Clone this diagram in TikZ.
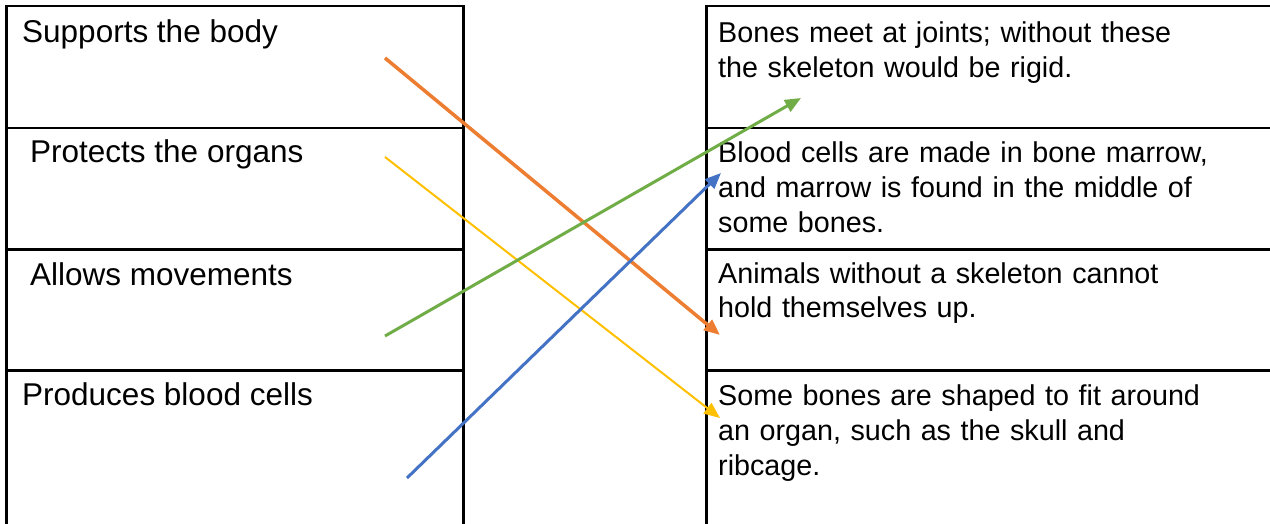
\documentclass[tikz,border=0pt]{standalone}
\usepackage{fontspec}
\setmainfont{Liberation Sans}
\usepackage{tikz}
\usetikzlibrary{arrows.meta}

\definecolor{linkorange}{HTML}{ED7D31}
\definecolor{linkyellow}{HTML}{FFC000}
\definecolor{linkgreen}{HTML}{70AD47}
\definecolor{linkblue}{HTML}{4472C4}

\begin{document}
\begin{tikzpicture}[x=1pt, y=-1pt,
  cell/.style={draw=black, line width=2.5pt, anchor=north west, inner sep=0pt},
  leftcell/.style={cell, minimum width=457pt},
  rightcell/.style={cell, minimum width=585pt},
  lefttext/.style={anchor=base west, inner sep=0pt, font=\fontsize{31.5}{35}\selectfont},
  righttext/.style={anchor=base west, inner sep=0pt, text width=548pt, align=left, font=\fontsize{28.7}{35}\selectfont},
  link/.style={-{Triangle[length=16pt, width=13pt]}}]

  \clip (0,0) rectangle (1270,524);
  \fill[white] (0,0) rectangle (1270,524);

  \node[leftcell, minimum height=122pt] (supports) at (5,5) {};
  \node[leftcell, minimum height=121pt] (protects) at (5,127) {};
  \node[leftcell, minimum height=121pt] (allows) at (5,248) {};
  \node[leftcell, minimum height=200pt] (produces) at (5,369) {};

  \node[rightcell, minimum height=122pt] (joints) at (705,5) {};
  \node[rightcell, minimum height=121pt] (marrow) at (705,127) {};
  \node[rightcell, minimum height=121pt] (animals) at (705,248) {};
  \node[rightcell, minimum height=200pt] (shaped) at (705,369) {};

  \node[lefttext] (supports-txt) at (22,43) {Supports the body};
  \node[lefttext] (protects-txt) at (30,163) {Protects the organs};
  \node[lefttext] (allows-txt) at (30,285) {Allows movements};
  \node[lefttext] (produces-txt) at (22,405) {Produces blood cells};

  \node[righttext] (joints-txt) at (718,43) {Bones meet at joints; without these\\the skeleton would be rigid.};
  \node[righttext] (marrow-txt) at (718,163) {Blood cells are made in bone marrow,\\and marrow is found in the middle of\\some bones.};
  \node[righttext] (animals-txt) at (718,283) {Animals without a skeleton cannot\\hold themselves up.};
  \node[righttext] (shaped-txt) at (718,405) {Some bones are shaped to fit around\\an organ, such as the skull and\\ribcage.};

  \coordinate (supports-out) at (385,58);
  \coordinate (protects-out) at (385,157);
  \coordinate (allows-out) at (385,336);
  \coordinate (produces-out) at (407,478);
  \coordinate (joints-in) at (801,98);
  \coordinate (marrow-in) at (721,173);
  \coordinate (animals-in) at (720,335);
  \coordinate (shaped-in) at (720,418);

  \draw[link, linkorange, line width=3.5pt] (supports-out) -- (animals-in);
  \draw[link, linkyellow, line width=2pt] (protects-out) -- (shaped-in);
  \draw[link, linkgreen, line width=3pt] (allows-out) -- (joints-in);
  \draw[link, linkblue, line width=3pt] (produces-out) -- (marrow-in);

\end{tikzpicture}
\end{document}
